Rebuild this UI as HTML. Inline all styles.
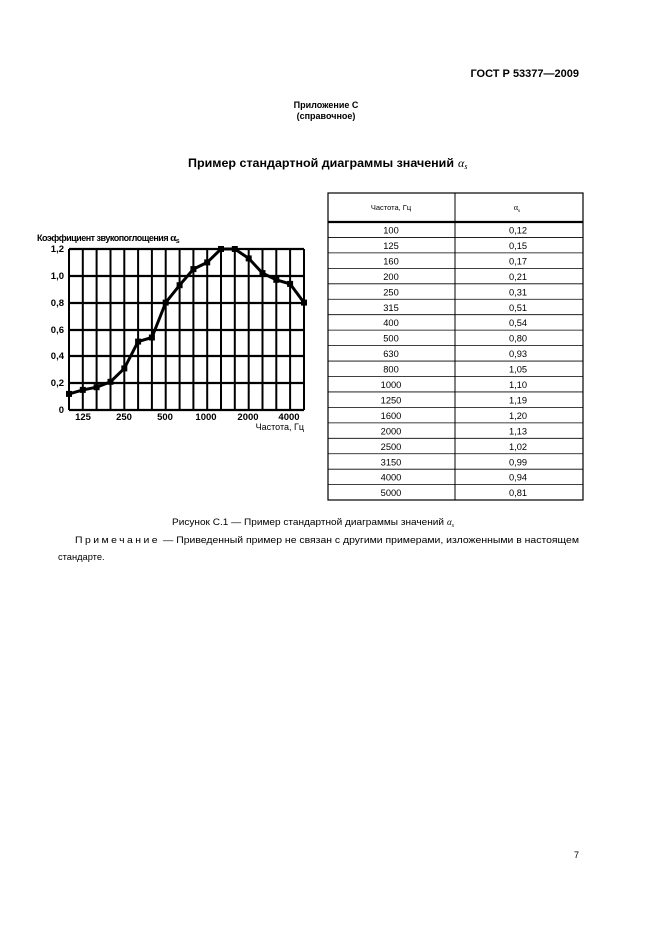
<!DOCTYPE html>
<html><head><meta charset="utf-8"><style>
body{margin:0;background:#fff;width:661px;height:936px;overflow:hidden;font-family:"Liberation Sans",sans-serif;}
</style></head><body>
<svg width="661" height="936" xmlns="http://www.w3.org/2000/svg" font-family="Liberation Sans, sans-serif">
<text x="579" y="77" font-size="11" font-weight="bold" text-anchor="end">ГОСТ Р 53377—2009</text>
<text x="326" y="108" font-size="9" font-weight="bold" text-anchor="middle">Приложение С</text>
<text x="326" y="119" font-size="9" font-weight="bold" text-anchor="middle">(справочное)</text>
<text x="188" y="167" font-size="12.3" font-weight="bold" textLength="266" lengthAdjust="spacingAndGlyphs">Пример стандартной диаграммы значений</text>
<text x="458" y="167" font-size="12" font-family="Liberation Serif" font-style="italic">α<tspan font-size="8" dy="2">s</tspan></text>

<g stroke="#000" stroke-width="2.2">
<line x1="69" y1="249" x2="304" y2="249"/><line x1="69" y1="276" x2="304" y2="276"/><line x1="69" y1="303" x2="304" y2="303"/><line x1="69" y1="330" x2="304" y2="330"/><line x1="69" y1="356" x2="304" y2="356"/><line x1="69" y1="383" x2="304" y2="383"/><line x1="69" y1="410" x2="304" y2="410"/>
</g>
<g stroke="#000" stroke-width="2">
<line x1="69" y1="249" x2="69" y2="410"/><line x1="82.8" y1="249" x2="82.8" y2="410"/><line x1="96.6" y1="249" x2="96.6" y2="410"/><line x1="110.5" y1="249" x2="110.5" y2="410"/><line x1="124.3" y1="249" x2="124.3" y2="410"/><line x1="138.1" y1="249" x2="138.1" y2="410"/><line x1="151.9" y1="249" x2="151.9" y2="410"/><line x1="165.7" y1="249" x2="165.7" y2="410"/><line x1="179.6" y1="249" x2="179.6" y2="410"/><line x1="193.4" y1="249" x2="193.4" y2="410"/><line x1="207.2" y1="249" x2="207.2" y2="410"/><line x1="221" y1="249" x2="221" y2="410"/><line x1="234.8" y1="249" x2="234.8" y2="410"/><line x1="248.7" y1="249" x2="248.7" y2="410"/><line x1="262.5" y1="249" x2="262.5" y2="410"/><line x1="276.3" y1="249" x2="276.3" y2="410"/><line x1="290.1" y1="249" x2="290.1" y2="410"/><line x1="304" y1="249" x2="304" y2="410"/>
</g>
<polyline fill="none" stroke="#000" stroke-width="3" points="69,393.9 82.8,389.9 96.6,387.2 110.5,381.8 124.3,368.4 138.1,341.6 151.9,337.5 165.7,302.6 179.6,285.2 193.4,269.1 207.2,262.4 221,249 234.8,249 248.7,258.4 262.5,273.1 276.3,279.8 290.1,283.9 304,302.6"/>
<g fill="#000">
<rect x="66" y="390.9" width="6" height="6"/><rect x="79.8" y="386.9" width="6" height="6"/><rect x="93.6" y="384.2" width="6" height="6"/><rect x="107.5" y="378.8" width="6" height="6"/><rect x="121.3" y="365.4" width="6" height="6"/><rect x="135.1" y="338.6" width="6" height="6"/><rect x="148.9" y="334.5" width="6" height="6"/><rect x="162.7" y="299.6" width="6" height="6"/><rect x="176.6" y="282.2" width="6" height="6"/><rect x="190.4" y="266.1" width="6" height="6"/><rect x="204.2" y="259.4" width="6" height="6"/><rect x="218" y="246" width="6" height="6"/><rect x="231.8" y="246" width="6" height="6"/><rect x="245.7" y="255.4" width="6" height="6"/><rect x="259.5" y="270.1" width="6" height="6"/><rect x="273.3" y="276.8" width="6" height="6"/><rect x="287.1" y="280.9" width="6" height="6"/><rect x="301" y="299.6" width="6" height="6"/>
</g>
<g font-size="9.5" font-weight="bold">
<text x="37" y="241" font-size="9" letter-spacing="-0.5">Коэффициент звукопоглощения <tspan font-family="Liberation Serif" font-size="11">α</tspan><tspan font-size="7" dy="2">s</tspan></text>
<g text-anchor="end"><text x="64" y="252">1,2</text><text x="64" y="279">1,0</text><text x="64" y="306">0,8</text><text x="64" y="333">0,6</text><text x="64" y="359">0,4</text><text x="64" y="386">0,2</text><text x="64" y="413">0</text></g>
<g text-anchor="middle"><text x="83" y="420">125</text><text x="124" y="420">250</text><text x="165" y="420">500</text><text x="206" y="420">1000</text><text x="248" y="420">2000</text><text x="289" y="420">4000</text></g>
<text x="304" y="430" text-anchor="end" font-weight="normal" font-size="9">Частота, Гц</text>
</g>

<g stroke="#000" fill="none">
<rect x="328" y="193" width="255" height="307" stroke-width="1.2"/>
<line x1="455" y1="193" x2="455" y2="500" stroke-width="1"/>
<line x1="328" y1="222" x2="583" y2="222" stroke-width="2.2"/>
<g stroke-width="0.8">
<line x1="328" y1="237.45" x2="583" y2="237.45"/><line x1="328" y1="252.9" x2="583" y2="252.9"/><line x1="328" y1="268.35" x2="583" y2="268.35"/><line x1="328" y1="283.8" x2="583" y2="283.8"/><line x1="328" y1="299.25" x2="583" y2="299.25"/><line x1="328" y1="314.7" x2="583" y2="314.7"/><line x1="328" y1="330.15" x2="583" y2="330.15"/><line x1="328" y1="345.6" x2="583" y2="345.6"/><line x1="328" y1="361.05" x2="583" y2="361.05"/><line x1="328" y1="376.5" x2="583" y2="376.5"/><line x1="328" y1="391.95" x2="583" y2="391.95"/><line x1="328" y1="407.4" x2="583" y2="407.4"/><line x1="328" y1="422.85" x2="583" y2="422.85"/><line x1="328" y1="438.3" x2="583" y2="438.3"/><line x1="328" y1="453.75" x2="583" y2="453.75"/><line x1="328" y1="469.2" x2="583" y2="469.2"/><line x1="328" y1="484.65" x2="583" y2="484.65"/>
</g></g>
<g font-size="9.3" text-anchor="middle">
<text x="391" y="233.5">100</text><text x="518" y="233.5">0,12</text>
<text x="391" y="248.9">125</text><text x="518" y="248.9">0,15</text>
<text x="391" y="264.4">160</text><text x="518" y="264.4">0,17</text>
<text x="391" y="279.9">200</text><text x="518" y="279.9">0,21</text>
<text x="391" y="295.3">250</text><text x="518" y="295.3">0,31</text>
<text x="391" y="310.8">315</text><text x="518" y="310.8">0,51</text>
<text x="391" y="326.2">400</text><text x="518" y="326.2">0,54</text>
<text x="391" y="341.7">500</text><text x="518" y="341.7">0,80</text>
<text x="391" y="357.1">630</text><text x="518" y="357.1">0,93</text>
<text x="391" y="372.6">800</text><text x="518" y="372.6">1,05</text>
<text x="391" y="388">1000</text><text x="518" y="388">1,10</text>
<text x="391" y="403.5">1250</text><text x="518" y="403.5">1,19</text>
<text x="391" y="418.9">1600</text><text x="518" y="418.9">1,20</text>
<text x="391" y="434.4">2000</text><text x="518" y="434.4">1,13</text>
<text x="391" y="449.8">2500</text><text x="518" y="449.8">1,02</text>
<text x="391" y="465.3">3150</text><text x="518" y="465.3">0,99</text>
<text x="391" y="480.7">4000</text><text x="518" y="480.7">0,94</text>
<text x="391" y="496.2">5000</text><text x="518" y="496.2">0,81</text>
</g>
<text x="391" y="210" font-size="7.5" text-anchor="middle">Частота, Гц</text>
<text x="517" y="210" font-size="8" text-anchor="middle" font-family="Liberation Serif">α<tspan font-size="5.5" dy="2">s</tspan></text>

<text x="172" y="525" font-size="9.5" textLength="272" lengthAdjust="spacingAndGlyphs">Рисунок С.1 — Пример стандартной диаграммы значений</text>
<text x="447" y="525" font-size="9" font-family="Liberation Serif" font-style="italic">α<tspan font-size="6" dy="2">s</tspan></text>
<text x="75" y="543" font-size="9.3" textLength="504" lengthAdjust="spacingAndGlyphs"><tspan letter-spacing="2.2">Примечание</tspan> — Приведенный пример не связан с другими примерами, изложенными в настоящем</text>
<text x="58" y="560" font-size="9.3">стандарте.</text>
<text x="579" y="858" font-size="9" text-anchor="end">7</text>
</svg>
</body></html>
